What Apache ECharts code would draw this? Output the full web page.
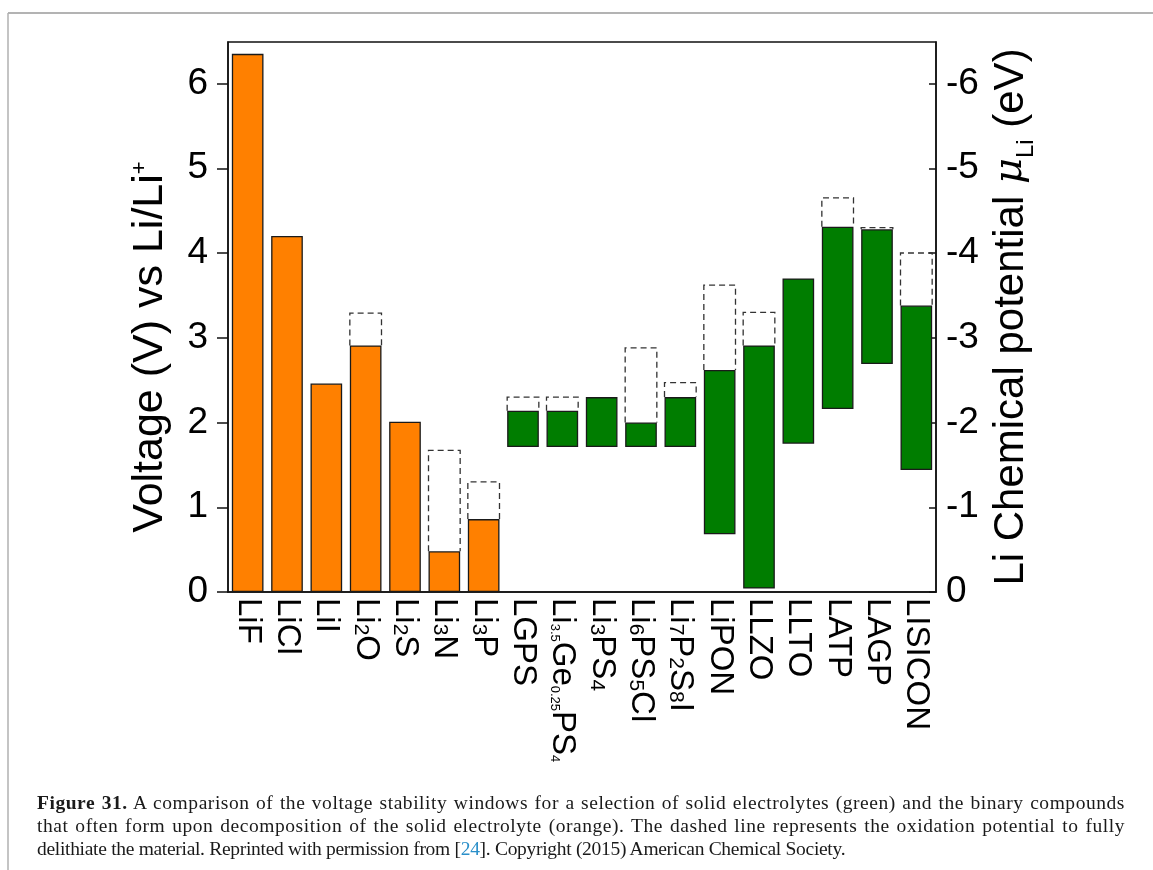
<!DOCTYPE html>
<html>
<head>
<meta charset="utf-8">
<script src="https://cdn.jsdelivr.net/npm/echarts@6/dist/echarts.min.js"></script>
<style>
  html, body { margin: 0; padding: 0; background: #ffffff; }
  #wrap { position: relative; width: 1153px; height: 870px; overflow: hidden; }
  #chart { position: absolute; left: 0; top: 0; width: 1153px; height: 870px; }
  #caption {
    position: absolute; left: 37px; top: 791px; width: 1088px;
    font-family: 'Liberation Serif', 'Times New Roman', serif;
    font-size: 19.5px; line-height: 23px; color: #1a1a1a;
  }
  #caption .full { text-align: justify; text-align-last: justify; white-space: nowrap; letter-spacing: 0.55px; }
  #caption .last { white-space: nowrap; letter-spacing: -0.3px; }
  #caption b { font-weight: bold; }
  #caption .ref { color: #2a8fc9; }
</style>
</head>
<body>
<div id="wrap">
  <div id="chart"></div>
  <div id="caption">
    <div class="full"><b>Figure 31.</b> A comparison of the voltage stability windows for a selection of solid electrolytes (green) and the binary compounds</div>
    <div class="full">that often form upon decomposition of the solid electrolyte (orange). The dashed line represents the oxidation potential to fully</div>
    <div class="last">delithiate the material. Reprinted with permission from [<span class="ref">24</span>]. Copyright (2015) American Chemical Society.</div>
  </div>
</div>
<script>
// Compounds on the x axis (rich-text markup gives the subscripts)
const categories = [
  'LiF', 'LiCl', 'LiI', 'Li{s|2}O', 'Li{s|2}S', 'Li{s|3}N', 'Li{s|3}P',
  'LGPS', 'Li{t|3.5}Ge{t|0.25}PS{t|4}', 'Li{s|3}PS{s|4}', 'Li{s|6}PS{s|5}Cl', 'Li{s|7}P{s|2}S{s|8}I',
  'LiPON', 'LLZO', 'LLTO', 'LATP', 'LAGP', 'LISICON'
];
// binary decomposition products vs. solid electrolytes
const kinds = [
  'binary', 'binary', 'binary', 'binary', 'binary', 'binary', 'binary',
  'electrolyte', 'electrolyte', 'electrolyte', 'electrolyte', 'electrolyte',
  'electrolyte', 'electrolyte', 'electrolyte', 'electrolyte', 'electrolyte', 'electrolyte'
];
// Stability window, V vs Li/Li+
const windowLow  = [0, 0, 0, 0, 0, 0, 0, 1.71, 1.71, 1.71, 1.71, 1.71, 0.68, 0.04, 1.75, 2.16, 2.69, 1.44];
const windowHigh = [6.35, 4.20, 2.46, 2.91, 2.01, 0.48, 0.86, 2.14, 2.14, 2.30, 2.00, 2.30, 2.62, 2.91, 3.70, 4.31, 4.28, 3.38];
// Oxidation potential to fully delithiate (null = same as window top)
const delithiation = [null, null, null, 3.29, null, 1.67, 1.30, 2.30, 2.30, null, 2.88, 2.47, 3.62, 3.30, null, 4.65, 4.30, 4.00];
// Axis ticks
const voltageTicks = [0, 1, 2, 3, 4, 5, 6];

const kindColor = { binary: '#FF8000', electrolyte: '#007D00' };
const sans = 'Liberation Sans, Arial, sans-serif';
const gapRatio = 0.195;

const windowData = windowHigh.map((hi, i) => ({
  value: +(hi - windowLow[i]).toFixed(3),
  itemStyle: { color: kindColor[kinds[i]] }
}));
// [category index, window top, delithiation potential]
const dashData = [];
delithiation.forEach((d, i) => { if (d != null) dashData.push([i, windowHigh[i], d]); });

const chart = echarts.init(document.getElementById('chart'), null, { renderer: 'canvas' });

const yBase = {
  type: 'value',
  min: 0,
  max: 6.49,
  interval: 1,
  splitLine: { show: false },
  axisLine: { show: true, lineStyle: { color: '#111', width: 1.5 } }
};

chart.setOption({
  animation: false,
  backgroundColor: '#ffffff',
  grid: {
    left: 228, right: 217, top: 42, bottom: 278,
    show: true, borderColor: '#111', borderWidth: 1.5, backgroundColor: 'transparent'
  },
  xAxis: {
    type: 'category',
    data: categories,
    axisLine: { show: true, onZero: false, lineStyle: { color: '#111', width: 1.5 } },
    axisTick: { show: false },
    axisLabel: {
      rotate: -90,
      interval: 0,
      margin: 6,
      color: '#000',
      fontFamily: sans,
      fontSize: 33,
      rich: {
        s: { fontFamily: sans, fontSize: 21, color: '#000', verticalAlign: 'bottom', padding: [0, 0, 1, 0] },
        t: { fontFamily: sans, fontSize: 13, color: '#000', verticalAlign: 'bottom', padding: [0, 0, 2, 0] }
      }
    }
  },
  yAxis: [
    Object.assign({}, yBase, {
      position: 'left',
      name: 'Voltage (V) vs Li/Li{sup|+}',
      nameLocation: 'middle',
      nameGap: 56,
      nameTextStyle: {
        fontFamily: sans, fontSize: 43, color: '#000',
        padding: [0, 60, 0, 0],
        rich: { sup: { fontFamily: sans, fontSize: 22, color: '#000', verticalAlign: 'top' } }
      },
      axisTick: { show: true, length: 11, customValues: voltageTicks, lineStyle: { color: '#111', width: 1.5 } },
      axisLabel: {
        customValues: voltageTicks, margin: 20, color: '#000', fontFamily: sans, fontSize: 37,
        formatter: v => String(v)
      }
    }),
    Object.assign({}, yBase, {
      position: 'right',
      name: 'Li Chemical potential {mu|μ}{sub|Li} (eV)',
      nameLocation: 'middle',
      nameGap: 54,
      nameTextStyle: {
        fontFamily: sans, fontSize: 42, color: '#000',
        rich: {
          mu: { fontFamily: 'DejaVu Serif, serif', fontStyle: 'italic', fontSize: 40, color: '#000' },
          sub: { fontFamily: sans, fontSize: 24, color: '#000', verticalAlign: 'bottom', padding: [0, 0, -6, 0] }
        }
      },
      axisTick: { show: true, inside: true, length: 7, customValues: voltageTicks, lineStyle: { color: '#111', width: 1.5 } },
      axisLabel: {
        customValues: voltageTicks, margin: 10, color: '#000', fontFamily: sans, fontSize: 37,
        formatter: v => v === 0 ? '0' : '-' + v
      }
    })
  ],
  series: [
    {
      name: 'base', type: 'bar', stack: 'v', yAxisIndex: 0,
      data: windowLow, barCategoryGap: (gapRatio * 100) + '%',
      itemStyle: { color: 'transparent', borderWidth: 0 },
      silent: true, z: 1
    },
    {
      name: 'window', type: 'bar', stack: 'v', yAxisIndex: 0,
      data: windowData, barCategoryGap: (gapRatio * 100) + '%',
      itemStyle: { borderColor: '#1a1a1a', borderWidth: 1.3 },
      z: 3
    },
    {
      // dashed outline from the window top up to the delithiation potential
      name: 'delithiation', type: 'custom', yAxisIndex: 0,
      data: dashData,
      encode: { x: 0, y: [1, 2] },
      z: 2,
      renderItem: function (params, api) {
        const idx = api.value(0);
        const bottom = api.coord([idx, api.value(1)]);
        const top = api.coord([idx, api.value(2)]);
        const halfW = api.size([1, 0])[0] * (1 - gapRatio) / 2;
        return {
          type: 'polyline',
          shape: {
            points: [
              [bottom[0] - halfW, bottom[1]],
              [bottom[0] - halfW, top[1]],
              [bottom[0] + halfW, top[1]],
              [bottom[0] + halfW, bottom[1]]
            ]
          },
          style: { stroke: '#333', lineWidth: 1.3, fill: null, lineDash: [6, 4] }
        };
      }
    }
  ],
  graphic: [
    { type: 'line', shape: { x1: 8, y1: 13, x2: 1153, y2: 13 }, style: { stroke: '#9a9a9a', lineWidth: 1.5 } },
    { type: 'line', shape: { x1: 8, y1: 13, x2: 8, y2: 870 }, style: { stroke: '#b0b0b0', lineWidth: 1.5 } }
  ]
});
</script>
</body>
</html>
